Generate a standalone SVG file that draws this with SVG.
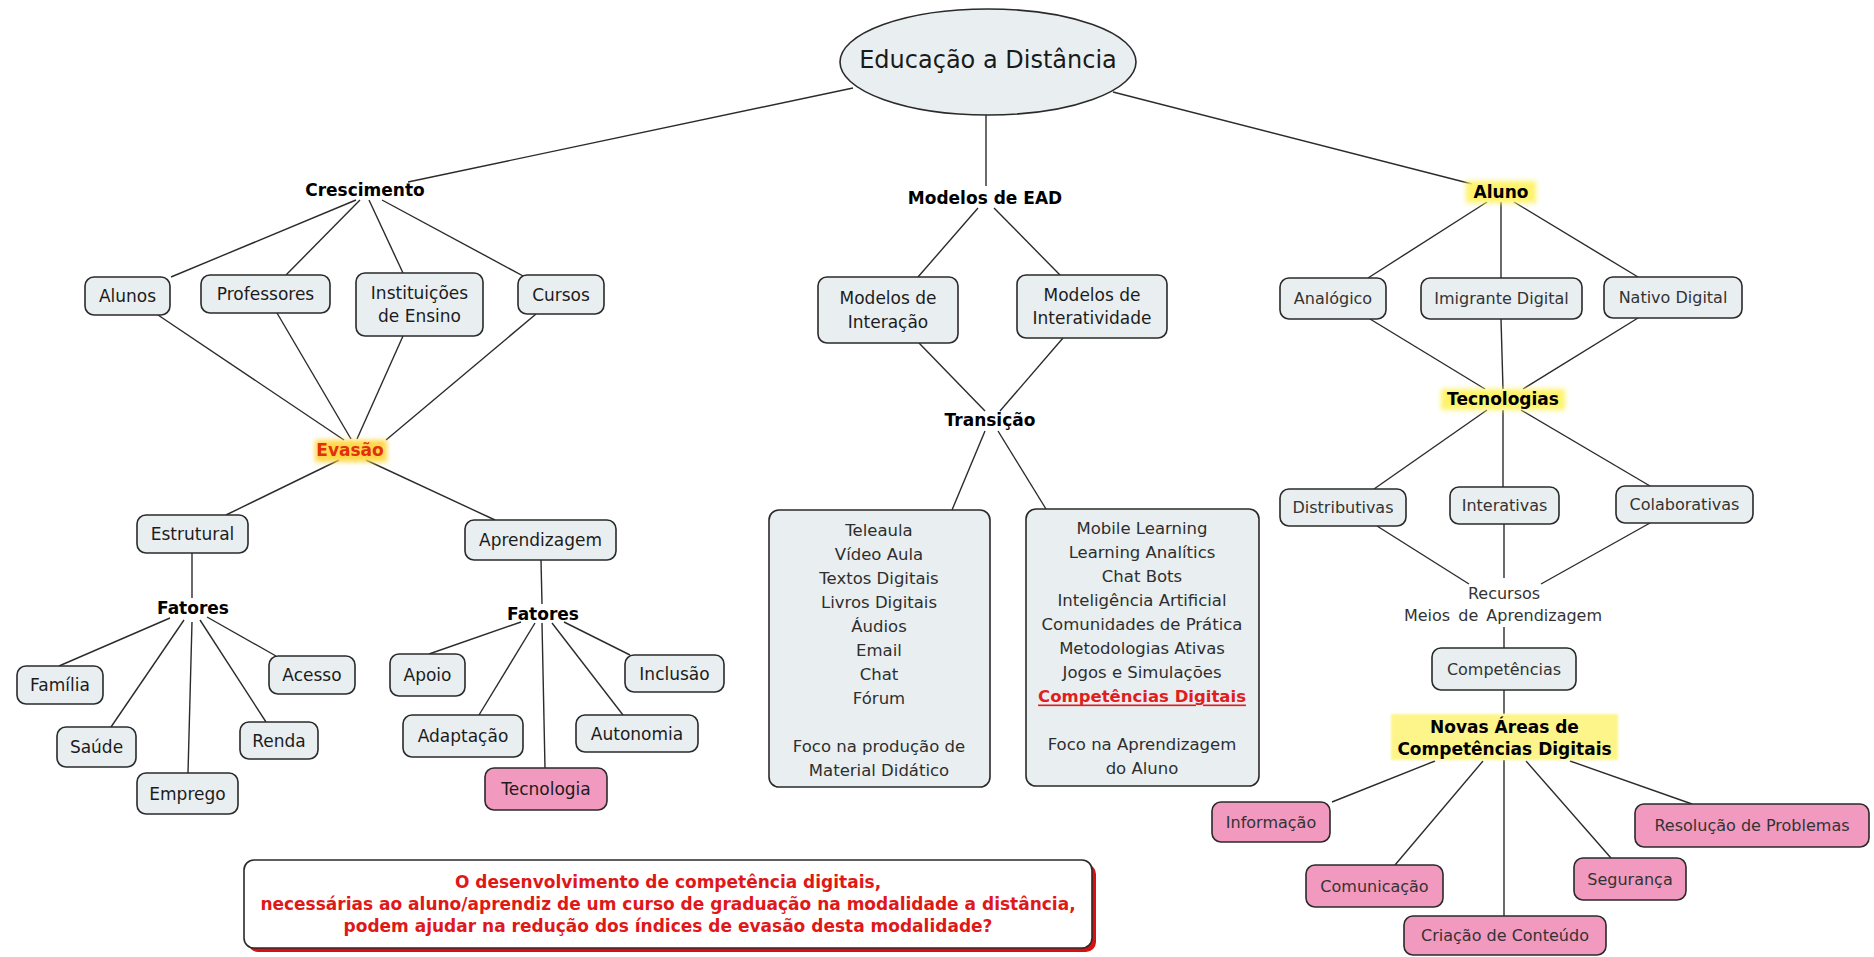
<svg xmlns="http://www.w3.org/2000/svg" width="1874" height="957" viewBox="0 0 1874 957">
<defs>
<filter id="blur2" x="-30%" y="-60%" width="160%" height="220%"><feGaussianBlur stdDeviation="2.5"/></filter>
<filter id="blur1" x="-10%" y="-20%" width="120%" height="140%"><feGaussianBlur stdDeviation="1.2"/></filter>
<style>
.c line{stroke:#2b2b2b;stroke-width:1.4;fill:none}
.bx{fill:#e9eff1;stroke:#2a2a2a;stroke-width:1.6}
.pk{fill:#f299bf;stroke:#2a2a2a;stroke-width:1.6}
text{font-family:"DejaVu Sans","Liberation Sans",sans-serif;text-anchor:middle;dominant-baseline:central}
.l{font-size:17px;fill:#1c1c1c}
.r{font-size:16px;fill:#333}
.b{font-size:17px;font-weight:bold;fill:#000}
.t{font-size:16.5px;fill:#2e2e2e}
.q{font-size:17px;fill:#e01818;font-weight:bold}
</style>
</defs>
<rect width="1874" height="957" fill="#ffffff"/>
<g class="c" id="connectors">
<line x1="853" y1="88" x2="408" y2="182"/>
<line x1="986" y1="115" x2="986" y2="186"/>
<line x1="1113" y1="92" x2="1472" y2="184"/>
<line x1="356" y1="200" x2="171" y2="277"/>
<line x1="360" y1="200" x2="286" y2="275"/>
<line x1="369" y1="200" x2="403" y2="273"/>
<line x1="382" y1="200" x2="525" y2="277"/>
<line x1="158" y1="315" x2="344" y2="440"/>
<line x1="277" y1="313" x2="351" y2="439"/>
<line x1="403" y1="336" x2="357" y2="439"/>
<line x1="536" y1="314" x2="386" y2="440"/>
<line x1="339" y1="460" x2="226" y2="515"/>
<line x1="366" y1="460" x2="495" y2="520"/>
<line x1="192" y1="553" x2="192" y2="598"/>
<line x1="541" y1="560" x2="542" y2="604"/>
<line x1="170" y1="618" x2="59" y2="666"/>
<line x1="184" y1="620" x2="111" y2="727"/>
<line x1="192" y1="622" x2="188" y2="773"/>
<line x1="200" y1="620" x2="266" y2="722"/>
<line x1="207" y1="617" x2="276" y2="656"/>
<line x1="521" y1="622" x2="429" y2="654"/>
<line x1="535" y1="623" x2="479" y2="715"/>
<line x1="542" y1="623" x2="545" y2="768"/>
<line x1="552" y1="623" x2="623" y2="715"/>
<line x1="564" y1="622" x2="630" y2="655"/>
<line x1="978" y1="208" x2="918" y2="277"/>
<line x1="994" y1="208" x2="1060" y2="275"/>
<line x1="919" y1="343" x2="985" y2="411"/>
<line x1="1063" y1="338" x2="1000" y2="411"/>
<line x1="985" y1="431" x2="952" y2="510"/>
<line x1="998" y1="431" x2="1046" y2="509"/>
<line x1="1487" y1="202" x2="1368" y2="278"/>
<line x1="1501" y1="202" x2="1501" y2="278"/>
<line x1="1514" y1="202" x2="1638" y2="277"/>
<line x1="1370" y1="319" x2="1485" y2="389"/>
<line x1="1501" y1="319" x2="1503" y2="389"/>
<line x1="1638" y1="318" x2="1523" y2="389"/>
<line x1="1487" y1="410" x2="1374" y2="489"/>
<line x1="1503" y1="410" x2="1503" y2="487"/>
<line x1="1521" y1="410" x2="1650" y2="486"/>
<line x1="1377" y1="526" x2="1469" y2="584"/>
<line x1="1504" y1="524" x2="1504" y2="578"/>
<line x1="1650" y1="523" x2="1541" y2="584"/>
<line x1="1504" y1="627" x2="1504" y2="648"/>
<line x1="1504" y1="690" x2="1504" y2="714"/>
<line x1="1435" y1="761" x2="1332" y2="802"/>
<line x1="1483" y1="761" x2="1395" y2="865"/>
<line x1="1504" y1="760" x2="1504" y2="916"/>
<line x1="1526" y1="761" x2="1611" y2="858"/>
<line x1="1570" y1="761" x2="1692" y2="804"/>
</g>
<g id="n-root"><ellipse cx="988" cy="62" rx="148" ry="53" class="bx"/><text x="988" y="60" style="font-size:24px;fill:#1a1a1a">Educação a Distância</text></g>
<g id="n-crescimento"><text class="b" x="365" y="190">Crescimento</text></g>
<g id="n-modelos-ead"><text class="b" x="985" y="198">Modelos de EAD</text></g>
<g id="n-aluno"><rect x="1466" y="181" width="70" height="22" fill="#fff36b" filter="url(#blur2)"/><text class="b" x="1501" y="192">Aluno</text></g>
<g id="n-alunos"><rect class="bx" x="85" y="277" width="85" height="38" rx="9"/><text class="l" x="127.5" y="296">Alunos</text></g>
<g id="n-professores"><rect class="bx" x="201" y="275" width="129" height="38" rx="9"/><text class="l" x="265.5" y="294">Professores</text></g>
<g id="n-instituicoes"><rect class="bx" x="356" y="273" width="127" height="63" rx="9"/><text class="l" x="419.5" y="293">Instituições</text><text class="l" x="419.5" y="316">de Ensino</text></g>
<g id="n-cursos"><rect class="bx" x="518" y="275" width="86" height="39" rx="9"/><text class="l" x="561" y="294.5">Cursos</text></g>
<g id="n-evasao"><rect x="315" y="440" width="72" height="22" fill="#ffd84a" filter="url(#blur2)"/><text x="350" y="450" style="font-size:17px;font-weight:bold;fill:#e2300c">Evasão</text></g>
<g id="n-estrutural"><rect class="bx" x="137" y="515" width="111" height="38" rx="9"/><text class="l" x="192.5" y="534">Estrutural</text></g>
<g id="n-aprendizagem"><rect class="bx" x="465" y="520" width="151" height="40" rx="9"/><text class="l" x="540.5" y="540">Aprendizagem</text></g>
<g id="n-fatores1"><text class="b" x="193" y="608">Fatores</text></g>
<g id="n-fatores2"><text class="b" x="543" y="614">Fatores</text></g>
<g id="n-familia"><rect class="bx" x="17" y="666" width="86" height="38" rx="9"/><text class="l" x="60" y="685">Família</text></g>
<g id="n-saude"><rect class="bx" x="57" y="727" width="79" height="40" rx="9"/><text class="l" x="96.5" y="747">Saúde</text></g>
<g id="n-emprego"><rect class="bx" x="137" y="773" width="101" height="41" rx="9"/><text class="l" x="187.5" y="793.5">Emprego</text></g>
<g id="n-renda"><rect class="bx" x="240" y="722" width="78" height="37" rx="9"/><text class="l" x="279" y="740.5">Renda</text></g>
<g id="n-acesso"><rect class="bx" x="269" y="656" width="86" height="38" rx="9"/><text class="l" x="312" y="675">Acesso</text></g>
<g id="n-apoio"><rect class="bx" x="390" y="654" width="75" height="42" rx="9"/><text class="l" x="427.5" y="675">Apoio</text></g>
<g id="n-adaptacao"><rect class="bx" x="403" y="715" width="120" height="42" rx="9"/><text class="l" x="463" y="736">Adaptação</text></g>
<g id="n-tecnologia"><rect class="pk" x="485" y="768" width="122" height="42" rx="9"/><text class="l" x="546" y="789">Tecnologia</text></g>
<g id="n-autonomia"><rect class="bx" x="576" y="715" width="122" height="37" rx="9"/><text class="l" x="637" y="733.5">Autonomia</text></g>
<g id="n-inclusao"><rect class="bx" x="625" y="655" width="99" height="37" rx="9"/><text class="l" x="674.5" y="673.5">Inclusão</text></g>
<g id="n-interacao"><rect class="bx" x="818" y="277" width="140" height="66" rx="9"/><text class="l" x="888" y="298">Modelos de</text><text class="l" x="888" y="322">Interação</text></g>
<g id="n-interatividade"><rect class="bx" x="1017" y="275" width="150" height="63" rx="9"/><text class="l" x="1092" y="295">Modelos de</text><text class="l" x="1092" y="318">Interatividade</text></g>
<g id="n-transicao"><text class="b" x="990" y="420">Transição</text></g>
<g id="n-box-left"><rect class="bx" x="769" y="510" width="221" height="277" rx="10"/>
<text class="t" x="879" y="530">Teleaula</text><text class="t" x="879" y="554">Vídeo Aula</text><text class="t" x="879" y="578">Textos Digitais</text><text class="t" x="879" y="602">Livros Digitais</text><text class="t" x="879" y="626">Áudios</text><text class="t" x="879" y="650">Email</text><text class="t" x="879" y="674">Chat</text><text class="t" x="879" y="698">Fórum</text><text class="t" x="879" y="746">Foco na produção de</text><text class="t" x="879" y="770">Material Didático</text></g>
<g id="n-box-right"><rect class="bx" x="1026" y="509" width="233" height="277" rx="10"/>
<text class="t" x="1142" y="528">Mobile Learning</text><text class="t" x="1142" y="552">Learning Analítics</text><text class="t" x="1142" y="576">Chat Bots</text><text class="t" x="1142" y="600">Inteligência Artificial</text><text class="t" x="1142" y="624">Comunidades de Prática</text><text class="t" x="1142" y="648">Metodologias Ativas</text><text class="t" x="1142" y="672">Jogos e Simulações</text><text x="1142" y="696" style="font-size:16.5px;font-weight:bold;fill:#e01e1e;text-decoration:underline">Competências Digitais</text><text class="t" x="1142" y="744">Foco na Aprendizagem</text><text class="t" x="1142" y="768">do Aluno</text></g>
<g id="n-analogico"><rect class="bx" x="1280" y="278" width="106" height="41" rx="9"/><text class="r" x="1333" y="298.5">Analógico</text></g>
<g id="n-imigrante"><rect class="bx" x="1421" y="278" width="161" height="41" rx="9"/><text class="r" x="1501.5" y="298.5">Imigrante Digital</text></g>
<g id="n-nativo"><rect class="bx" x="1604" y="277" width="138" height="41" rx="9"/><text class="r" x="1673" y="297.5">Nativo Digital</text></g>
<g id="n-tecnologias"><rect x="1441" y="389" width="124" height="21" fill="#fff36b" filter="url(#blur2)"/><text class="b" x="1503" y="399">Tecnologias</text></g>
<g id="n-distributivas"><rect class="bx" x="1280" y="489" width="126" height="37" rx="9"/><text class="r" x="1343" y="507.5">Distributivas</text></g>
<g id="n-interativas"><rect class="bx" x="1450" y="487" width="109" height="37" rx="9"/><text class="r" x="1504.5" y="505.5">Interativas</text></g>
<g id="n-colaborativas"><rect class="bx" x="1616" y="486" width="137" height="37" rx="9"/><text class="r" x="1684.5" y="504.5">Colaborativas</text></g>
<g id="n-recursos"><text class="r" x="1504" y="593">Recursos</text><text class="r" x="1503" y="615" style="word-spacing:3px">Meios de Aprendizagem</text></g>
<g id="n-competencias"><rect class="bx" x="1432" y="648" width="144" height="42" rx="9"/><text class="r" x="1504" y="669">Competências</text></g>
<g id="n-novas-areas"><rect x="1391" y="714" width="227" height="46" fill="#fdf58a" filter="url(#blur1)"/><text class="b" x="1504.5" y="727">Novas Áreas de</text><text class="b" x="1504.5" y="749">Competências Digitais</text></g>
<g id="n-informacao"><rect class="pk" x="1212" y="802" width="118" height="40" rx="9"/><text class="r" x="1271" y="822">Informação</text></g>
<g id="n-comunicacao"><rect class="pk" x="1306" y="865" width="137" height="42" rx="9"/><text class="r" x="1374.5" y="886">Comunicação</text></g>
<g id="n-criacao"><rect class="pk" x="1404" y="916" width="202" height="39" rx="9"/><text class="r" x="1505" y="935.5">Criação de Conteúdo</text></g>
<g id="n-seguranca"><rect class="pk" x="1574" y="858" width="112" height="42" rx="9"/><text class="r" x="1630" y="879">Segurança</text></g>
<g id="n-resolucao"><rect class="pk" x="1635" y="804" width="234" height="43" rx="9"/><text class="r" x="1752" y="825.5">Resolução de Problemas</text></g>
<g id="n-pergunta"><rect x="248" y="864" width="848" height="88" rx="10" fill="#d81010"/><rect x="244" y="860" width="848" height="88" rx="10" fill="#ffffff" stroke="#2a2a2a" stroke-width="1.6"/>
<text class="q" x="668" y="882">O desenvolvimento de competência digitais,</text>
<text class="q" x="668" y="904">necessárias ao aluno/aprendiz de um curso de graduação na modalidade a distância,</text>
<text class="q" x="668" y="926">podem ajudar na redução dos índices de evasão desta modalidade?</text></g>
</svg>
